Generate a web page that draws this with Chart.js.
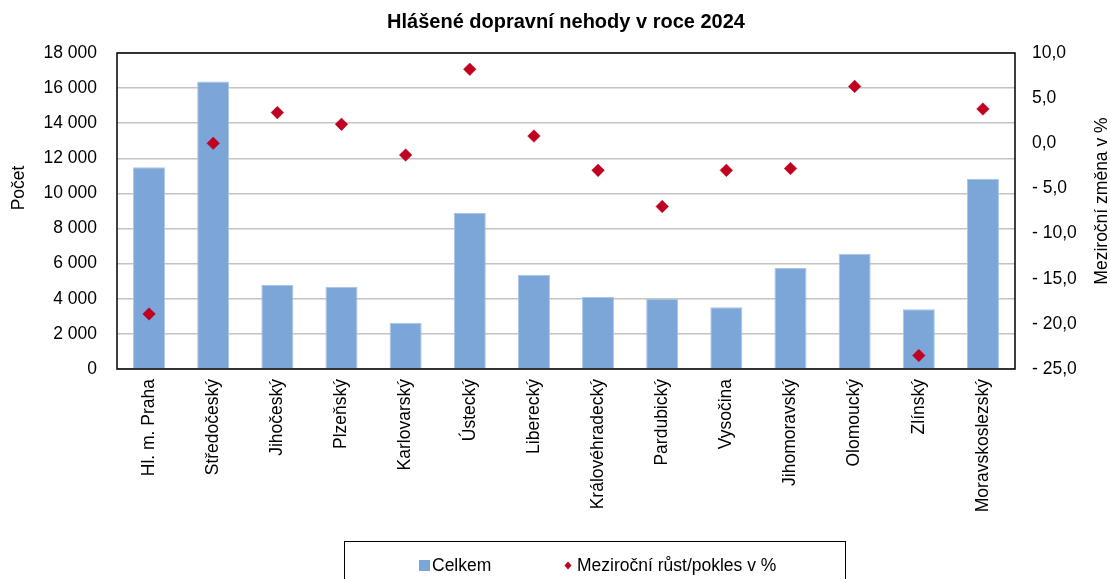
<!DOCTYPE html>
<html>
<head>
<meta charset="utf-8">
<script src="https://cdn.jsdelivr.net/npm/chart.js@4/dist/chart.umd.min.js"></script>
<style>
  html, body { margin: 0; padding: 0; background: #fff; }
  #wrap { width: 1110px; height: 579px; }
</style>
</head>
<body>
<div id="wrap"><canvas id="nehody"></canvas></div>
<script>
// data
const kraje = [
  'Hl. m. Praha', 'Středočeský', 'Jihočeský', 'Plzeňský', 'Karlovarský',
  'Ústecký', 'Liberecký', 'Královéhradecký', 'Pardubický', 'Vysočina',
  'Jihomoravský', 'Olomoucký', 'Zlínský', 'Moravskoslezský',
];
const celkem = [11490, 16380, 4780, 4670, 2630, 8880, 5370, 4100, 4000, 3520, 5750, 6560, 3410, 10820];
const zmena = [-18.9, 0.0, 3.4, 2.1, -1.3, 8.2, 0.8, -3.0, -7.0, -3.0, -2.8, 6.3, -23.5, 3.8];

const pocetMin = 0, pocetMax = 18000, pocetStep = 2000;
const zmenaMin = -25, zmenaMax = 10, zmenaStep = 5;

const titulek = 'Hlášené dopravní nehody v roce 2024';
const osaLevaNazev = 'Počet';
const osaPravaNazev = 'Meziroční změna v %';
const legendaCelkem = 'Celkem';
const legendaZmena = 'Meziroční růst/pokles v %';

const font = "'Liberation Sans', Arial, sans-serif";
const blue = '#7ca6d8';
const red = '#c00020';

const tisice = (v) => String(v).replace(/\B(?=(\d{3})+(?!\d))/g, ' ');
const procenta = (v) => {
  const s = Math.abs(v).toFixed(1).replace('.', ',');
  return v < 0 ? '- ' + s : s;
};

// axis titles, frame and boxed legend
const extras = {
  id: 'extras',
  afterDraw(chart) {
    const { ctx, chartArea: a } = chart;
    ctx.save();
    ctx.strokeStyle = '#000';
    ctx.lineWidth = 1.5;
    ctx.strokeRect(a.left, a.top, a.right - a.left, a.bottom - a.top);

    ctx.fillStyle = '#000';
    ctx.font = '17.5px ' + font;
    ctx.textAlign = 'center';
    ctx.textBaseline = 'middle';
    ctx.save();
    ctx.translate(19, 188);
    ctx.rotate(-Math.PI / 2);
    ctx.fillText(osaLevaNazev, 0, 0);
    ctx.restore();
    ctx.save();
    ctx.translate(1102, 201);
    ctx.rotate(-Math.PI / 2);
    ctx.fillText(osaPravaNazev, 0, 0);
    ctx.restore();

    // legend
    ctx.lineWidth = 1;
    ctx.strokeRect(344.5, 541.5, 501, 60);
    ctx.fillStyle = chart.data.datasets[1].backgroundColor;
    ctx.fillRect(419, 560, 11, 11);
    ctx.fillStyle = chart.data.datasets[0].pointBackgroundColor;
    ctx.beginPath();
    ctx.moveTo(568, 561.5);
    ctx.lineTo(571.5, 565.5);
    ctx.lineTo(568, 569.5);
    ctx.lineTo(564.5, 565.5);
    ctx.closePath();
    ctx.fill();
    ctx.fillStyle = '#000';
    ctx.textAlign = 'left';
    ctx.fillText(legendaCelkem, 432, 566);
    ctx.fillText(legendaZmena, 577, 566);
    ctx.restore();
  },
};

new Chart(document.getElementById('nehody'), {
  data: {
    labels: kraje,
    datasets: [
      {
        type: 'line',
        label: legendaZmena,
        data: zmena,
        yAxisID: 'y1',
        showLine: false,
        pointStyle: 'rectRot',
        pointRadius: 6.3,
        pointBackgroundColor: red,
        pointBorderColor: red,
        pointBorderWidth: 0.5,
        order: 0,
      },
      {
        type: 'bar',
        label: legendaCelkem,
        data: celkem,
        yAxisID: 'y',
        backgroundColor: blue,
        borderColor: '#a9c5ea',
        borderWidth: 1,
        barPercentage: 0.5,
        categoryPercentage: 1,
        order: 1,
      },
    ],
  },
  options: {
    responsive: true,
    maintainAspectRatio: false,
    animation: false,
    devicePixelRatio: 1,
    layout: { padding: 0 },
    plugins: {
      legend: { display: false },
      tooltip: { enabled: false },
      title: {
        display: true,
        text: titulek,
        fullSize: false,
        color: '#000',
        font: { family: font, size: 20, weight: 'bold' },
        padding: { top: 10, bottom: 19 },
      },
    },
    scales: {
      x: {
        grid: { display: false, drawTicks: false },
        border: { display: false },
        ticks: {
          color: '#000',
          font: { family: font, size: 17.5 },
          maxRotation: 90,
          minRotation: 90,
          padding: 10,
          autoSkip: false,
        },
        afterFit: (s) => { s.height = 210; },
      },
      y: {
        position: 'left',
        min: pocetMin,
        max: pocetMax,
        grid: { color: '#c4c4c4', lineWidth: 1.5, drawTicks: false },
        border: { display: false },
        ticks: {
          stepSize: pocetStep,
          color: '#000',
          font: { family: font, size: 17.5 },
          padding: 20,
          callback: (v) => tisice(v),
        },
        afterFit: (s) => { s.width = 117; },
      },
      y1: {
        position: 'right',
        min: zmenaMin,
        max: zmenaMax,
        grid: { display: false, drawTicks: false },
        border: { display: false },
        ticks: {
          stepSize: zmenaStep,
          color: '#000',
          font: { family: font, size: 17.5 },
          padding: 17,
          callback: (v) => procenta(v),
        },
        afterFit: (s) => { s.width = 95; },
      },
    },
  },
  plugins: [extras],
});
</script>
</body>
</html>
